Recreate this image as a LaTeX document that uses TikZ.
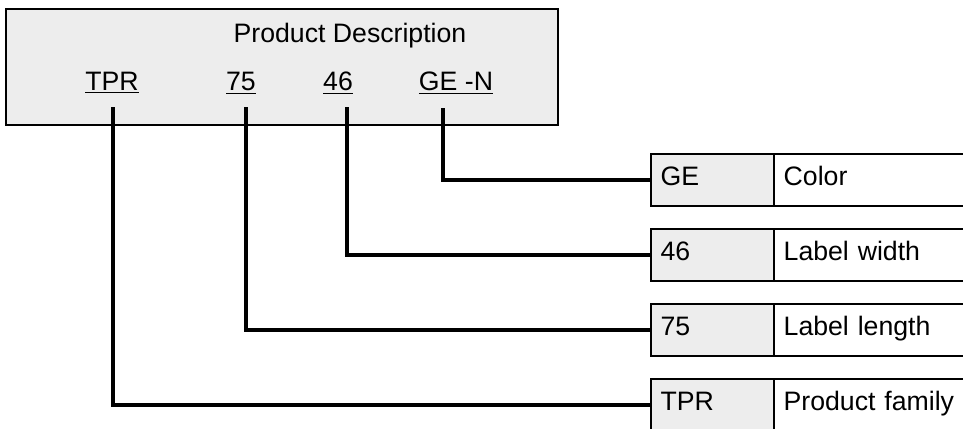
\documentclass[tikz,border=0pt]{standalone}
\usepackage{fontspec}
\setmainfont{Liberation Sans}
\usetikzlibrary{positioning}
\definecolor{cellgray}{HTML}{EDEDED}
\tikzset{
  descbox/.style={draw, line width=1.5pt, fill=cellgray, inner sep=0pt},
  codetext/.style={font=\fontsize{20}{24}\selectfont, inner sep=0pt},
  keycell/.style={draw, line width=1.5pt, fill=cellgray, anchor=north west,
    minimum width=92.25pt, minimum height=39pt, text width=78pt, align=left,
    inner xsep=6.75pt, outer sep=0pt, text height=14pt, text depth=6pt,
    font=\fontsize{20}{24}\selectfont},
  valcell/.style={keycell, fill=white, minimum width=151.5pt, text width=137pt},
  wire/.style={line width=3pt}
}
\begin{document}
\begin{tikzpicture}[x=0.75pt,y=-0.75pt]
\useasboundingbox (0,0) rectangle (963,428);
\node[descbox, anchor=north west, minimum width=414pt, minimum height=87pt] (desc) at (5,8) {};
\node[codetext] (title) at (350,36) {Product Description};
\node[codetext] (tpr) at (112,83) {\underline{TPR}};
\node[codetext] (len) at (241,83) {\underline{75}};
\node[codetext] (wid) at (338,83) {\underline{46}};
\node[codetext] (col) at (456,83) {\underline{GE -N}};
\node[keycell] (colkey) at (651,154) {GE};
\node[valcell, right=0pt of colkey] (colval) {Color};
\node[keycell] (widkey) at (651,229) {46};
\node[valcell, right=0pt of widkey] (widval) {Label width};
\node[keycell] (lenkey) at (651,304) {75};
\node[valcell, right=0pt of lenkey] (lenval) {Label length};
\node[keycell] (famkey) at (651,379) {TPR};
\node[valcell, right=0pt of famkey] (famval) {Product family};
\coordinate (tpr-foot) at (113,107);
\coordinate (len-foot) at (246,107);
\coordinate (wid-foot) at (347,107);
\coordinate (col-foot) at (443,108);
\draw[wire] (col-foot) |- (colkey.west);
\draw[wire] (wid-foot) |- (widkey.west);
\draw[wire] (len-foot) |- (lenkey.west);
\draw[wire] (tpr-foot) |- (famkey.west);
\end{tikzpicture}
\end{document}
